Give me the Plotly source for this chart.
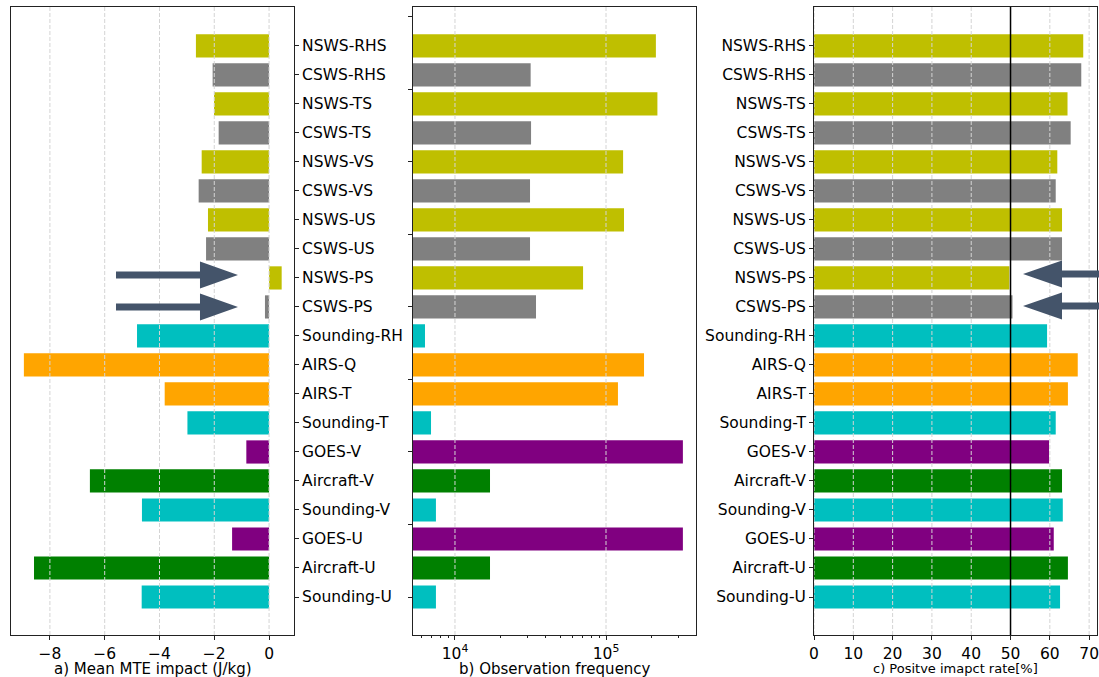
import plotly.graph_objects as go

# ---------------- data ----------------
categories = ["NSWS-RHS", "CSWS-RHS", "NSWS-TS", "CSWS-TS", "NSWS-VS", "CSWS-VS",
              "NSWS-US", "CSWS-US", "NSWS-PS", "CSWS-PS", "Sounding-RH", "AIRS-Q",
              "AIRS-T", "Sounding-T", "GOES-V", "Aircraft-V", "Sounding-V", "GOES-U",
              "Aircraft-U", "Sounding-U"]
mte_impact = [-2.67, -2.06, -2.01, -1.84, -2.46, -2.57, -2.23, -2.30, 0.46, -0.15,
              -4.82, -8.95, -3.81, -2.98, -0.83, -6.54, -4.64, -1.35, -8.58, -4.65]
obs_freq = [214000, 31700, 219000, 31900, 129800, 31400, 131600, 31400, 70500, 34400,
            6330, 178600, 120000, 6940, 323000, 17060, 7480, 323000, 17060, 7480]
pos_rate = [68.5, 68.0, 64.5, 65.3, 61.9, 61.5, 63.1, 63.1, 49.7, 50.5,
            59.3, 67.1, 64.6, 61.5, 59.8, 63.1, 63.3, 61.0, 64.6, 62.6]
bar_colors = ["#bfbf00", "#808080", "#bfbf00", "#808080", "#bfbf00", "#808080",
              "#bfbf00", "#808080", "#bfbf00", "#808080", "#00bfbf", "#ffa500",
              "#ffa500", "#00bfbf", "#800080", "#008000", "#00bfbf", "#800080",
              "#008000", "#00bfbf"]
a_ticks = [-8, -6, -4, -2, 0]
b_ticks = [1e4, 1e5]
b_ticktext = ["10<sup>4</sup>", "10<sup>5</sup>"]
b_minor = [6000, 7000, 8000, 9000, 20000, 30000, 40000, 50000, 60000, 70000,
           80000, 90000, 200000, 300000]
c_ticks = [0, 10, 20, 30, 40, 50, 60, 70]
b_yticks = [0, 2.5, 5, 7.5, 10, 12.5, 15, 17.5, 20]
reference_rate = 50

W, H = 1099, 677
n = len(categories)
ypos = list(range(n - 1, -1, -1))

def px(x):
    return x / W

def py(y):
    return 1 - y / H

fig = go.Figure()
for vals, xa, ya in [(mte_impact, "x", "y"), (obs_freq, "x2", "y2"), (pos_rate, "x3", "y3")]:
    fig.add_trace(go.Bar(x=vals, y=ypos, orientation="h", width=0.8,
                         marker=dict(color=bar_colors, line=dict(width=0)),
                         xaxis=xa, yaxis=ya, showlegend=False, hoverinfo="x+y"))

FONT = "DejaVu Sans"
LINE = "#222222"
ydom = [py(635), py(7)]
yrange = [-1.31, 20.34]
common_x = dict(showline=True, linecolor=LINE, linewidth=1, mirror=True, ticks="outside",
                ticklen=4, tickcolor=LINE, showgrid=False, zeroline=False, automargin=False,
                ticklabeloverflow="allow", ticklabelstandoff=0,
                tickfont=dict(family=FONT, size=15.5, color="black"))
common_y = dict(showline=True, linecolor=LINE, linewidth=1, mirror=True, ticks="outside",
                ticklen=4, tickcolor=LINE, showgrid=False, zeroline=False, range=yrange,
                domain=ydom, automargin=False, ticklabeloverflow="allow",
                tickfont=dict(family=FONT, size=15.5, color="black"))

fig.update_layout(
    width=W, height=H, margin=dict(l=0, r=0, t=0, b=0, pad=0, autoexpand=False),
    paper_bgcolor="white", plot_bgcolor="white", bargap=0.2,
    xaxis=dict(common_x, domain=[px(11), px(294)], range=[-9.42, 0.91],
               tickmode="array", tickvals=a_ticks, anchor="y"),
    yaxis=dict(common_y, side="right", tickmode="array", tickvals=ypos,
               ticktext=categories, anchor="x"),
    xaxis2=dict(common_x, domain=[px(413), px(696)], type="log", range=[3.722, 5.596],
                tickmode="array", tickvals=b_ticks, ticktext=b_ticktext, anchor="y2",
                minor=dict(tickmode="array", tickvals=b_minor, ticks="outside",
                           ticklen=2, tickcolor=LINE, showgrid=False)),
    yaxis2=dict(common_y, side="left", tickmode="array", tickvals=b_yticks,
                showticklabels=False, anchor="x2"),
    xaxis3=dict(common_x, domain=[px(814), px(1097)], range=[0, 72],
                tickmode="array", tickvals=c_ticks, anchor="y3"),
    yaxis3=dict(common_y, side="left", tickmode="array", tickvals=ypos,
                ticktext=categories, anchor="x3"),
)

shapes = []
grid_line = dict(color="#d4d4d4", width=1, dash="4px,2px")
for xa, ticks in [("x", a_ticks), ("x2", b_ticks), ("x3", c_ticks)]:
    ya = "y" + xa[1:]
    for v in ticks:
        shapes.append(dict(type="line", xref=xa, yref=ya + " domain", x0=v, x1=v,
                           y0=0, y1=1, line=grid_line, layer="above"))
shapes.append(dict(type="line", xref="x3", yref="y3 domain", x0=reference_rate,
                   x1=reference_rate, y0=0, y1=1, line=dict(color="black", width=1.5),
                   layer="above"))

ARROW = "#44546a"

def right_arrow(x0, xb, xt, yc, hs=3.4, hh=13.5):
    pts = [(x0, yc - hs), (xb, yc - hs), (xb, yc - hh), (xt, yc), (xb, yc + hh),
           (xb, yc + hs), (x0, yc + hs)]
    return "M " + " L ".join(f"{px(a):.5f},{py(b):.5f}" for a, b in pts) + " Z"

for (x0, xb, xt, yc) in [(116, 200, 238, 275), (116, 200, 238, 307),
                         (1099, 1062, 1023, 274), (1099, 1062, 1023, 306)]:
    shapes.append(dict(type="path", xref="paper", yref="paper",
                       path=right_arrow(x0, xb, xt, yc),
                       fillcolor=ARROW, line=dict(width=0), layer="above"))
fig.update_layout(shapes=shapes)

titles = [("a) Mean MTE impact (J/kg)", 152.5, 15), ("b) Observation frequency", 554.5, 15),
          ("c) Positve imapct rate[%]", 955.5, 13)]
fig.update_layout(annotations=[
    dict(text=t, x=px(xc), y=py(668.5), xref="paper", yref="paper", xanchor="center",
         yanchor="middle", showarrow=False, font=dict(family=FONT, size=s, color="black"))
    for t, xc, s in titles])

fig.write_html("out.html")
